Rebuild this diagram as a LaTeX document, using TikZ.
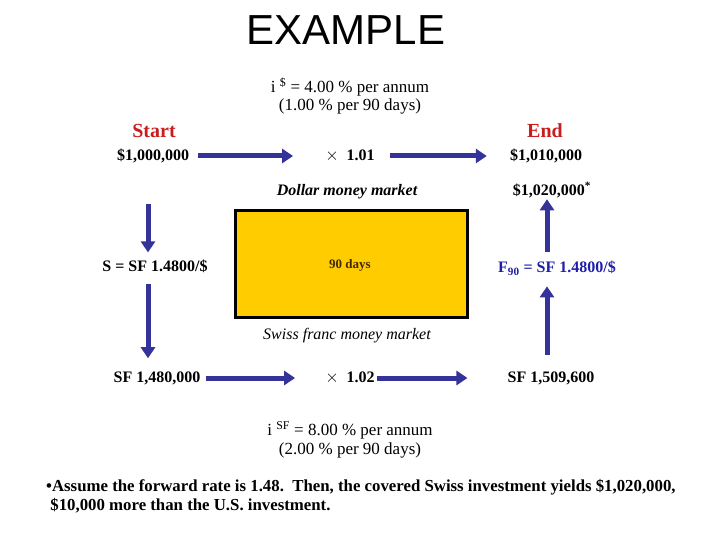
\documentclass[tikz,border=0pt]{standalone}
\usepackage{fontspec}
\setmainfont{Liberation Serif}
\newfontfamily\titlefont{Liberation Sans}
\usepackage{xcolor}
\usepackage{tikz}
\usetikzlibrary{arrows.meta, positioning}
\definecolor{flowblue}{RGB}{51, 51, 153}
\definecolor{startred}{RGB}{200, 30, 30}
\definecolor{fwdblue}{RGB}{30, 30, 170}
\definecolor{boxgold}{RGB}{255, 204, 0}
\definecolor{daybrown}{RGB}{70, 40, 0}

\begin{document}
\begin{tikzpicture}[x=1pt, y=-1pt,
  flow/.style={line width=5pt, draw=flowblue, -{Triangle[width=14pt, length=11pt]}},
  amount/.style={font=\fontsize{16}{18}\selectfont\bfseries, inner sep=1pt},
  rate/.style={font=\fontsize{17}{18.5}\selectfont, align=center, inner sep=1pt},
  market/.style={font=\fontsize{16}{18}\selectfont\itshape, inner sep=1pt},
  corner/.style={font=\fontsize{20}{22}\selectfont\bfseries, text=startred, inner sep=1pt}]

  \useasboundingbox (0, 0) rectangle (720, 540);

  % Title
  \node[font=\titlefont\fontsize{42}{46}\selectfont] (title) at (346, 30) {EXAMPLE};

  % Dollar rate
  \node[rate] (irusd) at (350, 96)
    {i \textsuperscript{\$} = 4.00 \% per annum\\(1.00 \% per 90 days)};

  \node[corner] (start) at (154, 131) {Start};
  \node[corner] (end)   at (545, 131) {End};

  % Dollar row
  \node[amount] (usd0)  at (153, 156) {\$1,000,000};
  \node[amount] (mulusd) at (350, 156) {$\times$\enspace1.01};
  \node[amount] (usd1)  at (546, 156) {\$1,010,000};
  \node[market, font=\fontsize{16}{18}\selectfont\bfseries\itshape] (dmm) at (347, 192) {Dollar money market};
  \node[amount] (usd2)  at (552, 190) {\$1,020,000\textsuperscript{*}};

  % Box
  \node[draw=black, line width=3pt, fill=boxgold, minimum width=232pt, minimum height=106pt,
        inner sep=0pt] (box) at (351, 264) {};
  \node[font=\fontsize{13}{15}\selectfont\bfseries, text=daybrown] (days) at (350, 265) {90 days};
  \node[market] (sfmm) at (347, 336) {Swiss franc money market};

  % Middle row
  \node[amount] (spot) at (155, 266) {S = SF 1.4800/\$};
  \node[amount, text=fwdblue] (fwd) at (557, 268) {F\textsubscript{90} = SF 1.4800/\$};

  % Franc row
  \node[amount] (sf0)   at (157, 378) {SF 1,480,000};
  \node[amount] (mulsf) at (350, 378) {$\times$\enspace1.02};
  \node[amount] (sf1)   at (551, 378) {SF 1,509,600};

  % Franc rate
  \node[rate] (irsf) at (350, 440)
    {i \textsuperscript{SF} = 8.00 \% per annum\\(2.00 \% per 90 days)};

  % Note
  \node[font=\fontsize{16.8}{19}\selectfont\bfseries, align=left, anchor=west, inner sep=0pt] (note) at (46, 496)
    {\textbullet Assume the forward rate is 1.48.\ \ Then, the covered Swiss investment yields \$1,020,000,\\
     \ \$10,000 more than the U.S. investment.};

  % Arrows
  \draw[flow, shorten <=8pt, shorten >=31pt] (usd0) -- (mulusd);
  \draw[flow, shorten <=14pt, shorten >=22pt] (mulusd) -- (usd1);
  \draw[flow, shorten <=4pt, shorten >=29pt] (sf0) -- (mulsf);
  \draw[flow, shorten <=1pt, shorten >=39pt] (mulsf) -- (sf1);
  \draw[flow, shorten <=40pt, shorten >=6pt] ([xshift=-5pt]usd0.south) -- ([xshift=-5pt]usd0.south |- spot.north);
  \draw[flow, shorten <=10pt, shorten >=12pt] ([xshift=-7pt]spot.south) -- ([xshift=-7pt]spot.south |- sf0.north);
  \draw[flow, shorten <=15pt, shorten >=10pt] ([xshift=-4pt]sf1.north) -- ([xshift=-4pt]sf1.north |- fwd.south);
  \draw[flow, shorten <=8pt, shorten >=0pt] ([xshift=-10pt]fwd.north) -- ([xshift=-10pt]fwd.north |- usd2.south);

\end{tikzpicture}
\end{document}
